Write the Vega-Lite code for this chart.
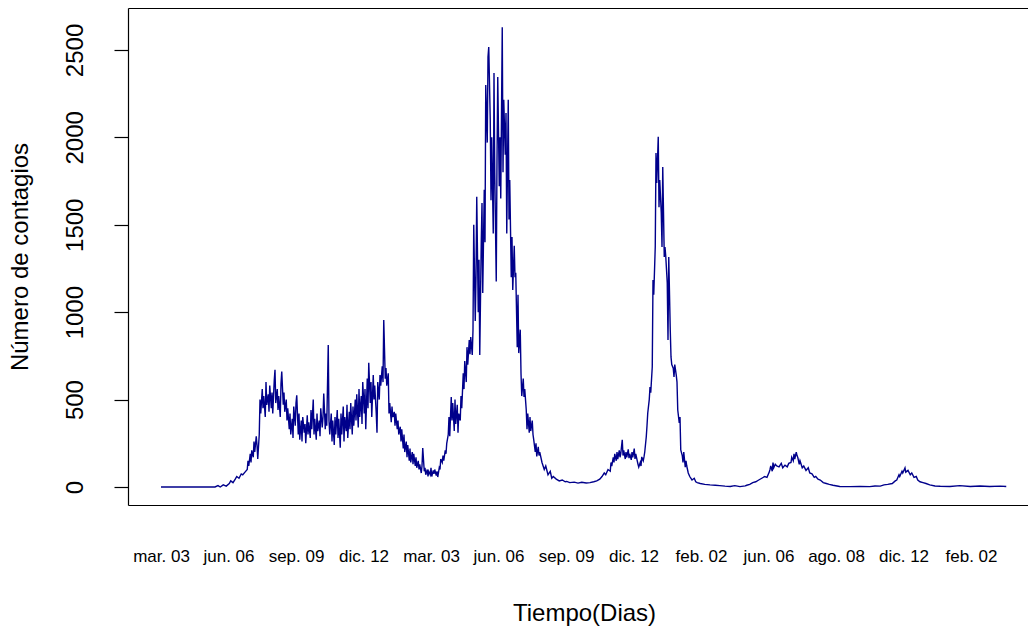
{
"$schema": "https://vega.github.io/schema/vega-lite/v6.json",
"width": 900,
"height": 497,
"autosize": {"type": "none"},
"padding": {"left": 128, "top": 8, "right": 0, "bottom": 124},
"background": "white",
"config": {"view": {"stroke": null}, "font": "Liberation Sans", "axis": {"grid": false}},
"data": {"values": [
{"d":0,"v":0},{"d":72,"v":0},{"d":76,"v":8},{"d":79,"v":0},{"d":83,"v":12},{"d":87,"v":5},{"d":91,"v":20},{"d":93,"v":35},{"d":96,"v":25},{"d":99,"v":45},{"d":101,"v":60},{"d":104,"v":50},{"d":107,"v":75},{"d":109,"v":70},{"d":112,"v":85},{"d":115,"v":100},
{"d":116,"v":150},{"d":117,"v":120},{"d":119,"v":190},{"d":120,"v":140},{"d":121,"v":210},{"d":123,"v":170},{"d":124,"v":260},{"d":125,"v":200},{"d":127,"v":290},{"d":128,"v":240},{"d":129,"v":160},{"d":131,"v":300},
{"d":132,"v":500},{"d":133,"v":420},{"d":135,"v":560},{"d":136,"v":450},{"d":137,"v":520},{"d":139,"v":400},{"d":140,"v":600},{"d":141,"v":470},{"d":143,"v":530},{"d":144,"v":430},{"d":145,"v":580},{"d":147,"v":450},{"d":148,"v":540},{"d":149,"v":420},{"d":151,"v":610},{"d":152,"v":670},{"d":153,"v":480},{"d":155,"v":560},{"d":156,"v":440},{"d":157,"v":520},{"d":159,"v":400},{"d":160,"v":590},{"d":161,"v":660},{"d":163,"v":470},{"d":164,"v":540},{"d":165,"v":430},{"d":167,"v":500},{"d":168,"v":380},
{"d":169,"v":450},{"d":171,"v":330},{"d":172,"v":420},{"d":173,"v":300},{"d":175,"v":390},{"d":176,"v":280},{"d":177,"v":460},{"d":179,"v":350},{"d":180,"v":480},{"d":181,"v":525},{"d":183,"v":300},{"d":184,"v":420},{"d":185,"v":270},{"d":187,"v":380},{"d":188,"v":260},{"d":189,"v":400},{"d":191,"v":310},{"d":192,"v":360},{"d":193,"v":250},{"d":195,"v":410},{"d":196,"v":300},{"d":197,"v":370},{"d":199,"v":280},{"d":200,"v":440},{"d":201,"v":330},{"d":203,"v":500},{"d":204,"v":300},{"d":205,"v":390},{"d":207,"v":270},{"d":208,"v":420},{"d":209,"v":320},{"d":211,"v":380},{"d":212,"v":290},{"d":213,"v":450},{"d":215,"v":340},{"d":216,"v":400},{"d":217,"v":535},{"d":219,"v":330},{"d":220,"v":420},{"d":221,"v":350},{"d":223,"v":812},{"d":224,"v":380},
{"d":225,"v":300},{"d":227,"v":420},{"d":228,"v":260},{"d":229,"v":380},{"d":231,"v":240},{"d":232,"v":400},{"d":233,"v":300},{"d":235,"v":440},{"d":236,"v":280},{"d":237,"v":390},{"d":239,"v":225},{"d":240,"v":420},{"d":241,"v":300},{"d":243,"v":460},{"d":244,"v":260},{"d":245,"v":400},{"d":247,"v":320},{"d":248,"v":470},{"d":249,"v":280},{"d":251,"v":430},{"d":252,"v":330},{"d":253,"v":480},{"d":255,"v":300},{"d":256,"v":460},
{"d":257,"v":350},{"d":259,"v":500},{"d":260,"v":380},{"d":261,"v":530},{"d":263,"v":340},{"d":264,"v":560},{"d":265,"v":400},{"d":267,"v":520},{"d":268,"v":360},{"d":269,"v":600},{"d":271,"v":420},{"d":272,"v":560},{"d":273,"v":330},{"d":275,"v":620},{"d":276,"v":450},{"d":277,"v":710},{"d":279,"v":480},{"d":280,"v":600},{"d":281,"v":400},{"d":283,"v":640},{"d":284,"v":500},{"d":285,"v":580},{"d":287,"v":420},{"d":288,"v":310},{"d":289,"v":600},{"d":291,"v":500},{"d":292,"v":640},
{"d":293,"v":580},{"d":295,"v":690},{"d":296,"v":600},{"d":297,"v":955},{"d":299,"v":620},{"d":300,"v":680},{"d":301,"v":580},{"d":303,"v":650},
{"d":304,"v":420},{"d":305,"v":480},{"d":307,"v":370},{"d":308,"v":460},{"d":309,"v":400},
{"d":311,"v":430},{"d":312,"v":350},{"d":313,"v":420},{"d":315,"v":330},{"d":316,"v":380},{"d":317,"v":300},{"d":319,"v":345},{"d":320,"v":260},{"d":321,"v":330},{"d":323,"v":220},{"d":324,"v":300},{"d":325,"v":200},{"d":327,"v":260},{"d":328,"v":170},{"d":329,"v":240},{"d":331,"v":150},{"d":332,"v":220},{"d":333,"v":140},{"d":335,"v":200},{"d":336,"v":130},{"d":337,"v":190},{"d":339,"v":120},{"d":340,"v":170},{"d":341,"v":110},{"d":343,"v":150},{"d":344,"v":100},{"d":345,"v":130},
{"d":347,"v":80},{"d":348,"v":120},{"d":349,"v":223},{"d":351,"v":90},{"d":352,"v":110},{"d":353,"v":70},{"d":355,"v":100},{"d":356,"v":60},{"d":357,"v":90},{"d":359,"v":70},{"d":360,"v":110},{"d":361,"v":60},{"d":363,"v":95},{"d":364,"v":75},{"d":365,"v":100},{"d":367,"v":65},{"d":368,"v":90},{"d":369,"v":57},{"d":371,"v":110},{"d":372,"v":100},
{"d":373,"v":160},{"d":375,"v":140},{"d":376,"v":180},{"d":377,"v":150},{"d":379,"v":210},{"d":380,"v":190},{"d":381,"v":250},
{"d":383,"v":300},{"d":384,"v":400},{"d":385,"v":290},{"d":387,"v":515},{"d":388,"v":380},{"d":389,"v":480},
{"d":391,"v":320},{"d":392,"v":500},{"d":393,"v":360},{"d":395,"v":470},{"d":396,"v":310},{"d":397,"v":420},{"d":399,"v":380},{"d":400,"v":520},{"d":401,"v":450},
{"d":403,"v":650},{"d":404,"v":560},{"d":405,"v":720},{"d":407,"v":600},{"d":408,"v":800},
{"d":409,"v":700},{"d":411,"v":840},{"d":412,"v":760},{"d":413,"v":858},{"d":415,"v":755},{"d":416,"v":900},
{"d":417,"v":1500},{"d":419,"v":950},{"d":420,"v":1200},{"d":421,"v":1660},{"d":423,"v":1000},
{"d":424,"v":1300},{"d":425,"v":755},{"d":427,"v":1400},
{"d":428,"v":1625},{"d":429,"v":1110},{"d":431,"v":1700},{"d":432,"v":1400},
{"d":433,"v":2300},{"d":435,"v":1970},{"d":436,"v":2460},{"d":437,"v":2517},{"d":439,"v":2100},
{"d":440,"v":1640},{"d":441,"v":2000},{"d":443,"v":1450},
{"d":444,"v":2368},{"d":445,"v":1800},{"d":447,"v":1175},{"d":448,"v":1870},
{"d":449,"v":2345},{"d":451,"v":1720},{"d":452,"v":2000},
{"d":453,"v":1650},{"d":455,"v":2630},{"d":456,"v":1800},
{"d":457,"v":2215},{"d":459,"v":1900},{"d":460,"v":2140},{"d":461,"v":1450},
{"d":463,"v":2215},{"d":464,"v":1530},{"d":465,"v":1756},
{"d":467,"v":1200},{"d":468,"v":1430},{"d":469,"v":1127},{"d":471,"v":1380},{"d":472,"v":1200},
{"d":473,"v":1225},{"d":475,"v":800},{"d":476,"v":1100},{"d":477,"v":766},{"d":479,"v":900},
{"d":480,"v":650},{"d":481,"v":520},{"d":483,"v":620},{"d":484,"v":515},{"d":485,"v":560},
{"d":487,"v":440},{"d":488,"v":330},{"d":489,"v":420},{"d":491,"v":310},{"d":492,"v":400},{"d":493,"v":320},{"d":495,"v":380},{"d":496,"v":300},
{"d":497,"v":270},{"d":499,"v":200},{"d":500,"v":250},{"d":501,"v":175},{"d":503,"v":230},{"d":504,"v":180},{"d":505,"v":200},
{"d":508,"v":140},{"d":511,"v":100},{"d":513,"v":120},{"d":516,"v":70},{"d":519,"v":90},{"d":521,"v":50},{"d":523,"v":60},
{"d":527,"v":45},{"d":531,"v":35},{"d":535,"v":40},{"d":539,"v":30},{"d":541,"v":32},
{"d":545,"v":25},{"d":551,"v":28},{"d":556,"v":22},{"d":561,"v":27},{"d":567,"v":23},{"d":572,"v":25},{"d":577,"v":30},{"d":581,"v":35},{"d":585,"v":45},
{"d":588,"v":60},{"d":591,"v":80},{"d":593,"v":70},{"d":596,"v":100},{"d":599,"v":90},
{"d":600,"v":140},{"d":601,"v":120},{"d":603,"v":170},{"d":604,"v":140},{"d":605,"v":190},{"d":607,"v":150},{"d":608,"v":200},{"d":609,"v":160},{"d":611,"v":210},{"d":612,"v":170},{"d":613,"v":190},{"d":615,"v":270},{"d":616,"v":180},
{"d":617,"v":210},{"d":619,"v":160},{"d":620,"v":200},{"d":621,"v":170},{"d":623,"v":215},{"d":624,"v":165},{"d":625,"v":190},{"d":627,"v":155},{"d":628,"v":200},{"d":629,"v":170},{"d":631,"v":220},{"d":632,"v":160},{"d":633,"v":190},{"d":635,"v":150},
{"d":636,"v":130},{"d":637,"v":114},{"d":639,"v":140},{"d":640,"v":120},{"d":641,"v":172},{"d":643,"v":150},{"d":644,"v":172},{"d":645,"v":200},
{"d":647,"v":286},{"d":648,"v":350},{"d":649,"v":423},{"d":651,"v":500},{"d":652,"v":572},
{"d":653,"v":540},{"d":655,"v":686},{"d":656,"v":1184},{"d":657,"v":1100},{"d":659,"v":1373},{"d":660,"v":1910},{"d":661,"v":1739},{"d":663,"v":2003},{"d":664,"v":1600},{"d":665,"v":1756},{"d":667,"v":1567},
{"d":668,"v":1373},{"d":669,"v":1830},{"d":671,"v":1316},{"d":672,"v":1373},{"d":673,"v":1320},
{"d":675,"v":1167},{"d":676,"v":841},{"d":677,"v":1316},{"d":679,"v":900},
{"d":680,"v":744},{"d":681,"v":700},{"d":683,"v":680},{"d":684,"v":629},{"d":685,"v":700},{"d":687,"v":640},{"d":688,"v":600},
{"d":689,"v":440},{"d":691,"v":366},{"d":692,"v":400},
{"d":693,"v":212},{"d":695,"v":180},{"d":696,"v":140},{"d":697,"v":200},{"d":699,"v":114},{"d":700,"v":150},{"d":701,"v":120},
{"d":703,"v":80},{"d":705,"v":60},{"d":708,"v":40},{"d":711,"v":50},{"d":713,"v":30},{"d":715,"v":25},
{"d":719,"v":20},{"d":725,"v":15},{"d":732,"v":12},{"d":739,"v":10},{"d":745,"v":8},
{"d":752,"v":5},{"d":759,"v":3},{"d":765,"v":8},{"d":772,"v":2},{"d":779,"v":6},{"d":781,"v":10},
{"d":785,"v":15},{"d":789,"v":25},{"d":793,"v":30},{"d":797,"v":40},{"d":801,"v":50},{"d":805,"v":60},{"d":808,"v":55},{"d":811,"v":85},
{"d":812,"v":100},{"d":813,"v":120},{"d":815,"v":90},{"d":816,"v":140},{"d":817,"v":110},{"d":819,"v":130},{"d":821,"v":120},{"d":824,"v":115},{"d":827,"v":135},{"d":829,"v":110},{"d":832,"v":125},{"d":835,"v":115},{"d":837,"v":135},{"d":840,"v":140},{"d":841,"v":170},{"d":843,"v":150},{"d":844,"v":190},{"d":845,"v":160},{"d":847,"v":200},{"d":848,"v":180},{"d":849,"v":170},{"d":851,"v":130},{"d":852,"v":150},{"d":855,"v":110},{"d":857,"v":120},{"d":860,"v":95},{"d":863,"v":110},{"d":865,"v":80},{"d":868,"v":75},{"d":871,"v":55},{"d":873,"v":60},{"d":876,"v":45},{"d":879,"v":40},{"d":883,"v":25},{"d":887,"v":20},{"d":891,"v":15},{"d":896,"v":10},
{"d":905,"v":3},{"d":919,"v":2},{"d":932,"v":3},{"d":945,"v":2},{"d":952,"v":6},{"d":959,"v":5},{"d":964,"v":12},{"d":969,"v":15},{"d":975,"v":20},{"d":979,"v":35},{"d":981,"v":40},{"d":984,"v":70},{"d":985,"v":60},{"d":988,"v":90},{"d":989,"v":80},{"d":992,"v":109},{"d":993,"v":85},{"d":996,"v":95},{"d":999,"v":70},{"d":1001,"v":80},{"d":1004,"v":55},{"d":1007,"v":60},{"d":1009,"v":40},{"d":1012,"v":30},{"d":1016,"v":25},{"d":1020,"v":20},{"d":1025,"v":12},{"d":1032,"v":6},{"d":1039,"v":4},{"d":1052,"v":3},{"d":1065,"v":8},{"d":1079,"v":3},{"d":1092,"v":6},{"d":1105,"v":3},{"d":1119,"v":5},{"d":1127,"v":3}
]},
"layer": [
{
"mark": {"type": "line", "color": "#00008B", "strokeWidth": 1.4},
"encoding": {
"x": {"field": "d", "type": "quantitative",
"scale": {"domain": [-44, 1156], "nice": false, "zero": false},
"axis": {"orient": "bottom", "title": "Tiempo(Dias)", "values": [0,90,180,270,360,450,540,630,720,810,900,990,1080],
"labelExpr": "['mar. 03','jun. 06','sep. 09','dic. 12','mar. 03','jun. 06','sep. 09','dic. 12','feb. 02','jun. 06','ago. 08','dic. 12','feb. 02'][round(datum.value/90)]",
"ticks": false, "domain": true, "domainColor": "#000000", "domainWidth": 1.2,
"labelFontSize": 17, "labelColor": "#000000", "labelPadding": 43, "labelFlush": false, "labelOverlap": false,
"titleFontSize": 24, "titleFontWeight": "normal", "titleColor": "#000000", "titlePadding": 37, "titleX": 456}},
"y": {"field": "v", "type": "quantitative",
"scale": {"domain": [-103, 2740], "nice": false, "zero": false},
"axis": {"title": "Número de contagios", "values": [0,500,1000,1500,2000,2500], "format": "d",
"domain": true, "domainColor": "#000000", "domainWidth": 1.2, "ticks": true, "tickColor": "#000000", "tickSize": 14, "tickWidth": 1.2,
"labelAngle": -90, "labelAlign": "center", "labelBaseline": "middle", "labelFontSize": 24, "labelColor": "#000000", "labelPadding": 39,
"titleFontSize": 24, "titleFontWeight": "normal", "titleColor": "#000000", "titlePadding": 31}}
}
},
{
"mark": {"type": "line", "opacity": 0},
"encoding": {
"x": {"field": "d", "type": "quantitative",
"axis": {"orient": "top", "title": null, "labels": false, "ticks": false, "domain": true, "domainColor": "#000000", "domainWidth": 1.2}},
"y": {"field": "v", "type": "quantitative"}
}
}
],
"resolve": {"axis": {"x": "independent"}}
}
